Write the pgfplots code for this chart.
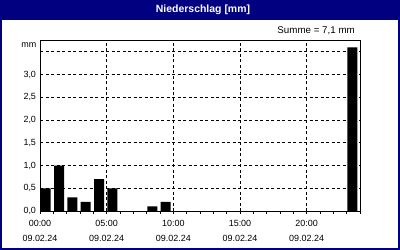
\documentclass[border=0pt]{standalone}
\usepackage{fontspec}
\setmainfont{Liberation Sans}
\usepackage{pgfplots}
\pgfplotsset{compat=1.18}
\definecolor{navy}{RGB}{0,0,128}
\begin{document}
\begin{tikzpicture}[x=1bp,y=1bp]
\fill[navy] (0,0) rectangle (400,250);
\fill[white] (2,2) rectangle (398,230);
\node[white,font=\fontsize{10.5}{12}\selectfont\bfseries] at (203,240) {Niederschlag [mm]};
\node[anchor=east,font=\fontsize{9.8}{11}\selectfont,inner sep=0pt] at (355,219) {Summe = 7,1 mm};
\node[anchor=east,font=\fontsize{9}{11}\selectfont,inner sep=0pt] at (36.5,205) {mm};
\begin{axis}[
  at={(40bp,39bp)}, anchor=south west,
  scale only axis, width=320bp, height=170.5bp,
  xmin=0, xmax=24, ymin=0, ymax=3.75,
  axis line style={black, line width=1bp},
  /pgf/number format/assume math mode=true,
  tick align=outside,
  xtick pos=bottom, ytick pos=left,
  xtick={0,5,10,15,20},
  minor xtick={0,1,...,24},
  major tick length=2.5bp, minor tick length=2.5bp,
  xtick style={black, line width=1bp},
  minor tick style={black, line width=1bp},
  ytick style={draw=none},
  xticklabels={{00:00\\09.02.24},{05:00\\09.02.24},{10:00\\09.02.24},{15:00\\09.02.24},{20:00\\09.02.24}},
  xticklabel style={align=center, font=\fontsize{9}{15.5}\selectfont, yshift=-3bp},
  ytick={0,0.5,1,1.5,2,2.5,3,3.5},
  yticklabels={{0,0},{0,5},{1,0},{1,5},{2,0},{2,5},{3,0},{}},
  yticklabel style={font=\fontsize{9}{11}\selectfont, xshift=2bp},
  xmajorgrids, ymajorgrids,
  major grid style={black, line width=1bp, dash pattern=on 3bp off 2.5bp},
]
\addplot[ybar, bar width=10bp, bar shift=0pt, fill=black, draw=none]
  coordinates {(0.43,0.5) (1.43,1.0) (2.43,0.3) (3.43,0.2) (4.43,0.7) (5.43,0.5) (8.43,0.1) (9.43,0.2) (23.43,3.6)};
\end{axis}
\pgfresetboundingbox
\path[use as bounding box] (0,0) rectangle (400,250);
\end{tikzpicture}
\end{document}
